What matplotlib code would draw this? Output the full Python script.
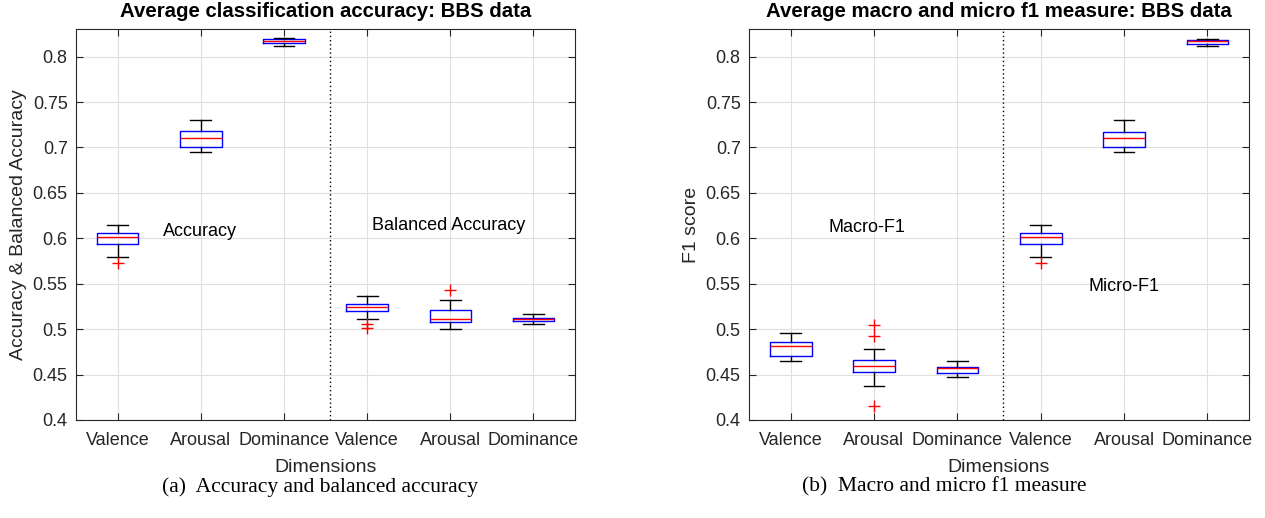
import matplotlib
matplotlib.use("Agg")
import matplotlib.pyplot as plt

# ---------------- data ----------------
categories = ["Valence", "Arousal", "Dominance", "Valence", "Arousal", "Dominance"]

# Left panel: Accuracy (first 3) and Balanced Accuracy (last 3)
acc_whislo = [0.579, 0.695, 0.812, 0.511, 0.500, 0.5055]
acc_q1     = [0.594, 0.701, 0.815, 0.520, 0.508, 0.5085]
acc_med    = [0.601, 0.710, 0.817, 0.5245, 0.5113, 0.5107]
acc_q3     = [0.606, 0.718, 0.819, 0.5275, 0.5216, 0.5124]
acc_whishi = [0.615, 0.730, 0.820, 0.537, 0.532, 0.5165]
acc_fliers = [[0.573], [], [], [0.506, 0.501], [0.543], []]

# Right panel: Macro-F1 (first 3) and Micro-F1 (last 3)
f1_whislo = [0.4645, 0.437, 0.4473, 0.579, 0.6945, 0.8118]
f1_q1     = [0.470, 0.4527, 0.452, 0.594, 0.7003, 0.814]
f1_med    = [0.4817, 0.459, 0.4568, 0.601, 0.7102, 0.8173]
f1_q3     = [0.4857, 0.466, 0.4586, 0.606, 0.7168, 0.8183]
f1_whishi = [0.496, 0.478, 0.4648, 0.615, 0.730, 0.8198]
f1_fliers = [[], [0.505, 0.4926, 0.4154], [], [0.573], [], []]

yticks = [0.4, 0.45, 0.5, 0.55, 0.6, 0.65, 0.7, 0.75, 0.8]

# ---------------- style ----------------
plt.rcParams["font.family"] = ["Liberation Sans", "DejaVu Sans"]
AXC = (0.15, 0.15, 0.15)

fig = plt.figure(figsize=(12.65, 5.18), dpi=100)
ax1 = fig.add_axes([0.0601, 0.1892, 0.3945, 0.7542])
ax2 = fig.add_axes([0.5921, 0.1892, 0.3953, 0.7542])


def make_stats(lo, q1, med, q3, hi, fl):
    return [dict(whislo=a, q1=b, med=c, q3=d, whishi=e, fliers=f)
            for a, b, c, d, e, f in zip(lo, q1, med, q3, hi, fl)]


def draw(ax, stats, title, ylabel):
    ax.bxp(stats, positions=range(1, len(stats) + 1), widths=0.5,
           showfliers=True,
           boxprops=dict(color="blue", linewidth=1.0),
           medianprops=dict(color="red", linewidth=1.0),
           whiskerprops=dict(color="black", linewidth=1.0),
           capprops=dict(color="black", linewidth=1.0),
           capwidths=0.25,
           flierprops=dict(marker="+", markeredgecolor="red", markersize=8,
                           linestyle="none", markeredgewidth=1.0))
    ax.set_xlim(0.5, 6.5)
    ax.set_ylim(0.4, 0.83)
    ax.set_yticks(yticks)
    ax.set_yticklabels([f"{v:g}" for v in yticks])
    ax.set_xticks(range(1, 7))
    ax.set_xticklabels(categories)
    ax.grid(True, color=(0.88, 0.88, 0.88), linewidth=0.8)
    ax.set_axisbelow(True)
    ax.tick_params(direction="in", length=5, width=0.8, top=True, right=True,
                   labelsize=13, colors=AXC, pad=6)
    ax.tick_params(axis="x", pad=9)
    for s in ax.spines.values():
        s.set_color(AXC)
        s.set_linewidth(0.8)
    ax.axvline(3.55, color="black", linestyle=(0, (1, 2)), linewidth=1.0)
    ax.set_title(title, fontsize=14.7, fontweight="bold", pad=9)
    ax.set_xlabel("Dimensions", fontsize=14, color=AXC, labelpad=7)
    ax.set_ylabel(ylabel, fontsize=14, color=AXC, labelpad=4)


draw(ax1, make_stats(acc_whislo, acc_q1, acc_med, acc_q3, acc_whishi, acc_fliers),
     "Average classification accuracy: BBS data", "Accuracy & Balanced Accuracy")
draw(ax2, make_stats(f1_whislo, f1_q1, f1_med, f1_q3, f1_whishi, f1_fliers),
     "Average macro and micro f1 measure: BBS data", "F1 score")

ax1.text(1.54, 0.607, "Accuracy", fontsize=13, va="center", ha="left")
ax1.text(4.06, 0.614, "Balanced Accuracy", fontsize=13, va="center", ha="left")
ax2.text(1.45, 0.612, "Macro-F1", fontsize=13, va="center", ha="left")
ax2.text(4.57, 0.547, "Micro-F1", fontsize=13, va="center", ha="left")

fig.text(320 / 1265, 1 - 487 / 518, "(a)  Accuracy and balanced accuracy",
         fontsize=15.5, family=["Liberation Serif", "DejaVu Serif"],
         ha="center", va="center")
fig.text(944 / 1265, 1 - 487 / 518, "(b)  Macro and micro f1 measure",
         fontsize=15.5, family=["Liberation Serif", "DejaVu Serif"],
         ha="center", va="center")

fig.savefig("out.png", dpi=100)
